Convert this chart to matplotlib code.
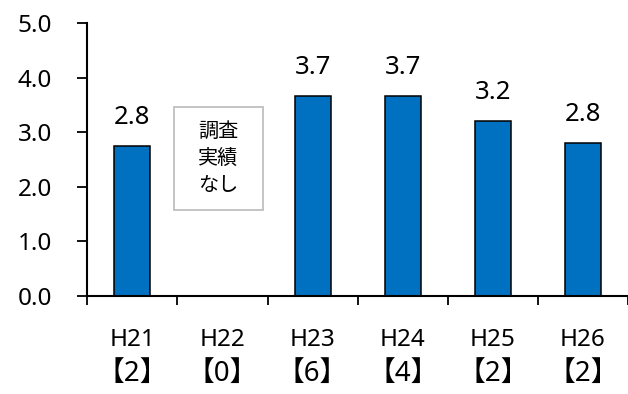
import numpy as np
import matplotlib
matplotlib.use("Agg")
import matplotlib.pyplot as plt
from matplotlib.patches import Rectangle

plt.rcParams['font.family'] = ['Noto Sans', 'Noto Sans CJK JP', 'DejaVu Sans']

# survey results per year, number of surveys in brackets
years = ['H21', 'H22', 'H23', 'H24', 'H25', 'H26']
counts = [2, 0, 6, 4, 2, 2]
values = [2.75, np.nan, 3.67, 3.67, 3.2, 2.8]
yticks = [0.0, 1.0, 2.0, 3.0, 4.0, 5.0]

fig = plt.figure(figsize=(6.28, 3.94), dpi=100)
ax = fig.add_axes([0.139, 0.249, 0.861, 0.692])

x = np.arange(len(years))
heights = np.nan_to_num(values)
bars = ax.bar(x, heights, width=0.4, color='#0070C0', edgecolor='black', linewidth=1.1)

for xi, v in zip(x, values):
    if np.isnan(v):
        continue
    ax.annotate(f'{v:.1f}', (xi, v), xytext=(0, 16), textcoords='offset points',
                ha='center', va='baseline', fontsize=18.5)

# no survey in H22
ax.add_patch(Rectangle((0.46, 1.58), 0.99, 1.88, facecolor='white',
                       edgecolor='#BFBFBF', linewidth=1.3, zorder=3))
ax.text(0.955, 2.52, '調査\n実績\nなし', ha='center', va='center',
        family='Noto Sans CJK JP', fontsize=14.5, linespacing=1.38, zorder=4)

ax.set_xlim(-0.5, 5.5)
ax.set_ylim(0, 5)
ax.set_yticks(yticks)
ax.set_yticklabels([f'{t:.1f}' for t in yticks], fontsize=17.5)

# category boundaries as ticks, labels in two rows below
ax.set_xticks(np.arange(-0.5, 6.0, 1.0))
ax.set_xticklabels([])
for xi, y, c in zip(x, years, counts):
    ax.annotate(y, (xi, 0), xycoords=('data', 'axes fraction'),
                xytext=(0, -32), textcoords='offset points',
                ha='center', va='center', fontsize=17.5)
    ax.annotate(f'【{c}】', (xi, 0), xycoords=('data', 'axes fraction'),
                xytext=(0, -56), textcoords='offset points',
                ha='center', va='center', fontsize=20)
ax.tick_params(axis='x', direction='out', length=6.7, width=1.3)
ax.tick_params(axis='y', direction='out', length=7.2, width=1.3, pad=18)

for side in ['top', 'right']:
    ax.spines[side].set_visible(False)
for side in ['left', 'bottom']:
    ax.spines[side].set_linewidth(1.5)

fig.savefig('out.png', dpi=100)
